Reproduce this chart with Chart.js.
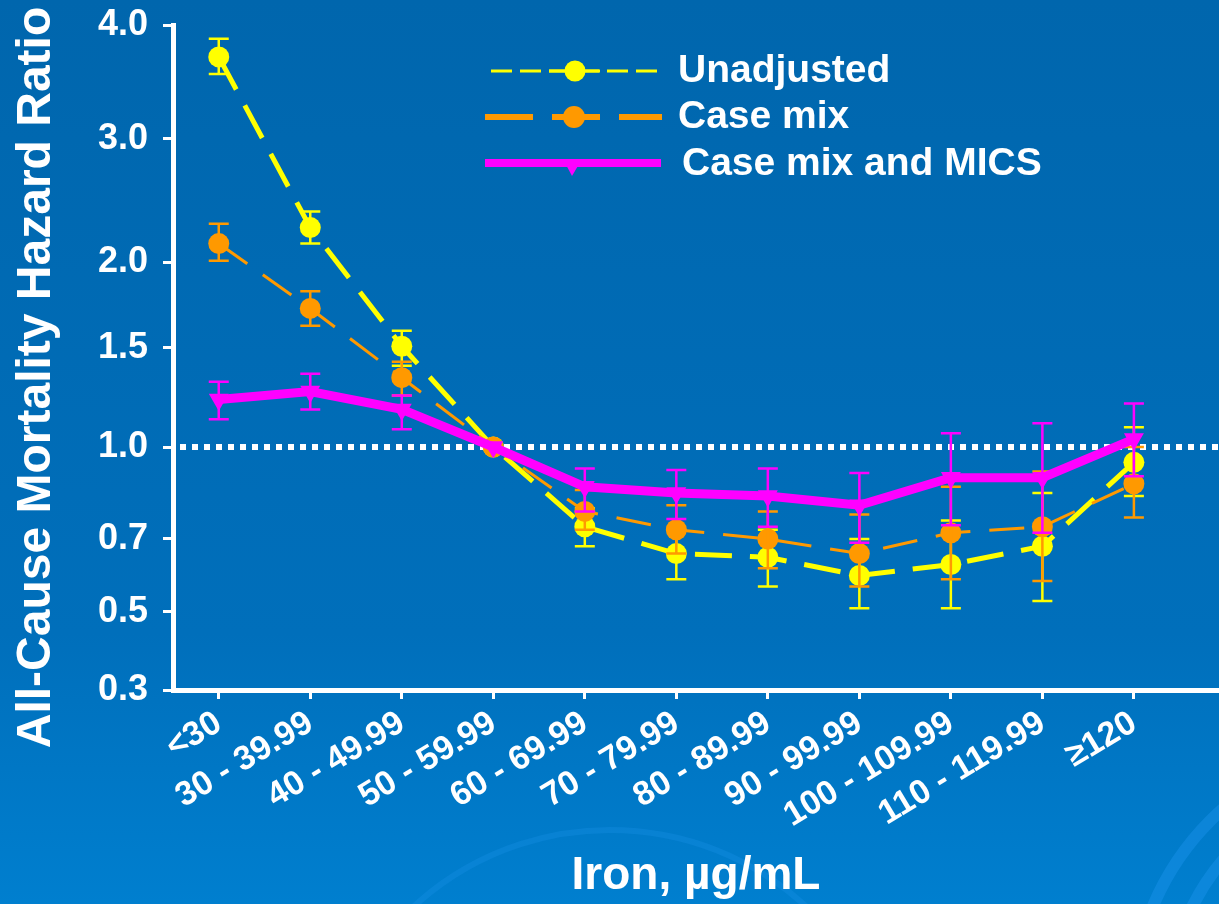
<!DOCTYPE html>
<html>
<head>
<meta charset="utf-8">
<title>All-cause mortality hazard ratio by serum iron</title>
<script src="https://cdn.jsdelivr.net/npm/chart.js@4.4.1/dist/chart.umd.min.js"></script>
<style>
  html, body { margin: 0; padding: 0; background: #0068b0; }
  #wrap { width: 1219px; height: 904px; }
</style>
</head>
<body>
<div id="wrap"><canvas id="chart" width="1219" height="904"></canvas></div>
<script>
const categories = ['<30', '30 - 39.99', '40 - 49.99', '50 - 59.99', '60 - 69.99', '70 - 79.99',
  '80 - 89.99', '90 - 99.99', '100 - 109.99', '110 - 119.99', '≥120'];

// hazard ratios and the ends of their error bars
const unadjusted   = [3.72, 2.28, 1.51, 1.00, 0.74, 0.66, 0.65, 0.60, 0.63, 0.68, 0.95];
const unadjustedLo = [3.57, 2.15, 1.41, 1.00, 0.68, 0.59, 0.57, 0.51, 0.51, 0.53, 0.84];
const unadjustedHi = [3.88, 2.41, 1.60, 1.00, 0.80, 0.73, 0.73, 0.70, 0.76, 0.85, 1.10];

const caseMix   = [2.15, 1.73, 1.35, 1.00, 0.79, 0.73, 0.70, 0.66, 0.72, 0.74, 0.88];
const caseMixLo = [2.01, 1.63, 1.26, 1.00, 0.73, 0.66, 0.62, 0.57, 0.59, 0.585, 0.77];
const caseMixHi = [2.31, 1.83, 1.43, 1.00, 0.86, 0.81, 0.79, 0.78, 0.87, 0.92, 1.00];

const caseMixMics   = [1.24, 1.28, 1.19, 1.00, 0.87, 0.85, 0.84, 0.81, 0.90, 0.90, 1.04];
const caseMixMicsLo = [1.14, 1.19, 1.09, 1.00, 0.79, 0.765, 0.74, 0.69, 0.745, 0.72, 0.905];
const caseMixMicsHi = [1.33, 1.37, 1.26, 1.00, 0.93, 0.925, 0.93, 0.915, 1.07, 1.12, 1.22];

// the slide's y axis is neither linear nor log: each tick sits at its own height (0-100)
const yTickLabels  = [0.3, 0.5, 0.7, 1.0, 1.5, 2.0, 3.0, 4.0];
const yTickHeights = [0, 11.73, 22.71, 36.54, 51.43, 64.36, 82.86, 100];

const FONT = "'Liberation Sans', Arial, sans-serif";
Chart.defaults.font.family = FONT;
Chart.defaults.color = '#ffffff';

// hazard ratio -> height on the axis, piecewise between ticks
function toAxis(v) {
  let i = 0;
  while (i < yTickLabels.length - 2 && v > yTickLabels[i + 1]) i++;
  const t = (v - yTickLabels[i]) / (yTickLabels[i + 1] - yTickLabels[i]);
  return yTickHeights[i] + t * (yTickHeights[i + 1] - yTickHeights[i]);
}

function series(values) {
  return values.map((v, i) => ({ x: i, y: toAxis(v) }));
}

const background = {
  id: 'background',
  beforeDraw(chart) {
    const { ctx, width, height } = chart;
    ctx.save();
    const g = ctx.createLinearGradient(0, 0, 0, height);
    g.addColorStop(0, '#0066ad');
    g.addColorStop(0.7, '#006fbb');
    g.addColorStop(1, '#007fcf');
    ctx.fillStyle = g;
    ctx.fillRect(0, 0, width, height);

    // faint swirls of the slide template
    ctx.strokeStyle = 'rgba(30, 150, 240, 0.4)';
    ctx.lineWidth = 12;
    [200, 232, 268].forEach(r => {
      ctx.beginPath();
      ctx.arc(1400, 1010, r, Math.PI, 1.5 * Math.PI);
      ctx.stroke();
    });
    ctx.lineWidth = 6;
    ctx.strokeStyle = 'rgba(30, 150, 240, 0.25)';
    ctx.beginPath();
    ctx.arc(610, 1120, 290, 1.15 * Math.PI, 1.75 * Math.PI);
    ctx.stroke();
    ctx.restore();
  }
};

const referenceLine = {
  id: 'referenceLine',
  beforeDatasetsDraw(chart) {
    const { ctx, chartArea, scales } = chart;
    const y = scales.y.getPixelForValue(toAxis(1.0));
    ctx.save();
    ctx.strokeStyle = '#ffffff';
    ctx.lineWidth = 6;
    ctx.setLineDash([6, 6]);
    ctx.beginPath();
    ctx.moveTo(chartArea.left + 7, y);
    ctx.lineTo(chartArea.right, y);
    ctx.stroke();
    ctx.restore();
  }
};

const errorBars = {
  id: 'errorBars',
  afterDatasetDraw(chart, args) {
    const ds = chart.data.datasets[args.index];
    const { x, y } = chart.scales;
    const ctx = chart.ctx;
    ctx.save();
    ctx.strokeStyle = ds.borderColor;
    ctx.lineWidth = 2.5;
    ds.lo.forEach((lo, i) => {
      if (lo === ds.hi[i]) return;
      const px = x.getPixelForValue(i);
      const top = y.getPixelForValue(toAxis(ds.hi[i]));
      const bot = y.getPixelForValue(toAxis(lo));
      ctx.beginPath();
      ctx.moveTo(px, top);
      ctx.lineTo(px, bot);
      ctx.moveTo(px - 10, top);
      ctx.lineTo(px + 10, top);
      ctx.moveTo(px - 10, bot);
      ctx.lineTo(px + 10, bot);
      ctx.stroke();
    });
    ctx.restore();
  }
};

// legend drawn by hand: the slide's samples mix dashes and markers
const legendBox = {
  id: 'legendBox',
  afterDraw(chart) {
    const ctx = chart.ctx;
    const [u, c, m] = chart.data.datasets;
    ctx.save();

    // Unadjusted
    ctx.strokeStyle = u.borderColor;
    ctx.lineWidth = 3;
    ctx.setLineDash([21, 8]);
    ctx.beginPath(); ctx.moveTo(491, 71); ctx.lineTo(658, 71); ctx.stroke();
    ctx.setLineDash([]);
    ctx.beginPath(); ctx.moveTo(549, 71); ctx.lineTo(600, 71); ctx.stroke();
    ctx.fillStyle = u.borderColor;
    ctx.beginPath(); ctx.arc(575, 71, 10.5, 0, 2 * Math.PI); ctx.fill();

    // Case mix
    ctx.strokeStyle = c.borderColor;
    ctx.lineWidth = 6;
    ctx.setLineDash([48, 19]);
    ctx.beginPath(); ctx.moveTo(485, 117); ctx.lineTo(662, 117); ctx.stroke();
    ctx.setLineDash([]);
    ctx.fillStyle = c.borderColor;
    ctx.beginPath(); ctx.arc(574, 117, 11, 0, 2 * Math.PI); ctx.fill();

    // Case mix and MICS
    ctx.strokeStyle = m.borderColor;
    ctx.lineWidth = 8;
    ctx.beginPath(); ctx.moveTo(485, 163); ctx.lineTo(661, 163); ctx.stroke();
    ctx.fillStyle = m.borderColor;
    ctx.beginPath();
    ctx.moveTo(563, 159); ctx.lineTo(582, 159); ctx.lineTo(572, 176);
    ctx.closePath(); ctx.fill();

    ctx.fillStyle = '#ffffff';
    ctx.font = `bold 39px ${FONT}`;
    ctx.textBaseline = 'middle';
    ctx.fillText(u.label, 678, 71);
    ctx.fillText(c.label, 678, 117);
    ctx.fillText(m.label, 682, 164);
    ctx.restore();
  }
};

new Chart(document.getElementById('chart'), {
  type: 'line',
  data: {
    datasets: [
      {
        label: 'Unadjusted',
        data: series(unadjusted),
        lo: unadjustedLo,
        hi: unadjustedHi,
        borderColor: '#ffff00',
        backgroundColor: '#ffff00',
        borderWidth: 5,
        borderDash: [37, 18],
        pointStyle: 'circle',
        pointRadius: 10.5,
        pointBorderWidth: 0,
        order: 3
      },
      {
        label: 'Case mix',
        data: series(caseMix),
        lo: caseMixLo,
        hi: caseMixHi,
        borderColor: '#ff9900',
        backgroundColor: '#ff9900',
        borderWidth: 3,
        borderDash: [35, 19],
        pointStyle: 'circle',
        pointRadius: 10.5,
        pointBorderWidth: 0,
        order: 2
      },
      {
        label: 'Case mix and MICS',
        data: series(caseMixMics),
        lo: caseMixMicsLo,
        hi: caseMixMicsHi,
        borderColor: '#ff00ff',
        backgroundColor: '#ff00ff',
        borderWidth: 9,
        pointStyle: 'triangle',
        pointRotation: 180,
        pointRadius: 11.5,
        pointBorderWidth: 0,
        order: 1
      }
    ]
  },
  options: {
    responsive: false,
    animation: false,
    layout: { autoPadding: false, padding: { top: 25, right: 0, bottom: 0, left: 0 } },
    plugins: {
      legend: { display: false },
      tooltip: { enabled: false }
    },
    scales: {
      x: {
        type: 'linear',
        min: -0.5,
        max: 10.93,
        afterBuildTicks: (scale) => { scale.ticks = categories.map((c, i) => ({ value: i })); },
        afterFit: (scale) => {
          scale.height = 214;
          scale.paddingLeft = 0;
          scale.paddingRight = 0;
        },
        grid: { drawOnChartArea: false, color: '#ffffff', lineWidth: 3, tickLength: 9 },
        border: { color: '#ffffff', width: 5 },
        ticks: {
          autoSkip: false,
          minRotation: 31,
          maxRotation: 31,
          padding: 4,
          color: '#ffffff',
          font: { size: 34, weight: 'bold' },
          callback: (value) => categories[value]
        },
        title: {
          display: true,
          text: 'Iron, µg/mL',
          color: '#ffffff',
          font: { size: 46, weight: 'bold' },
          padding: { top: 0, bottom: 0 }
        }
      },
      y: {
        min: 0,
        max: 100,
        afterBuildTicks: (scale) => { scale.ticks = yTickHeights.map(v => ({ value: v })); },
        afterFit: (scale) => {
          scale.width = 173;
          scale.paddingTop = 0;
          scale.paddingBottom = 0;
        },
        grid: { drawOnChartArea: false, color: '#ffffff', lineWidth: 3, tickLength: 10 },
        border: { color: '#ffffff', width: 5 },
        ticks: {
          padding: 15,
          color: '#ffffff',
          font: { size: 36, weight: 'bold' },
          callback: (value, index) => yTickLabels[index].toFixed(1)
        },
        title: {
          display: true,
          text: 'All-Cause Mortality Hazard Ratio   ',
          color: '#ffffff',
          font: { size: 48, weight: 'bold' },
          padding: { top: 8, bottom: 0 }
        }
      }
    }
  },
  plugins: [background, referenceLine, errorBars, legendBox]
});
</script>
</body>
</html>
